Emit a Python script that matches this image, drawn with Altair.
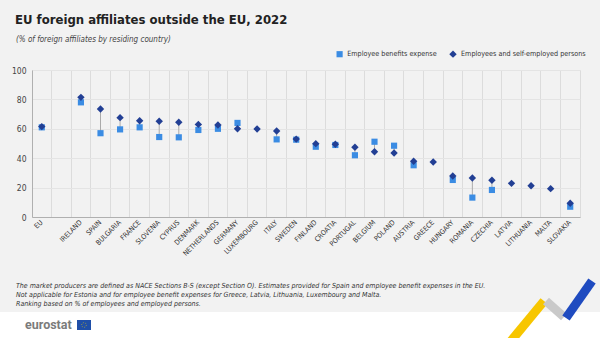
import altair as alt
import pandas as pd

countries = ["EU", " ", "IRELAND", "SPAIN", "BULGARIA", "FRANCE", "SLOVENIA", "CYPRUS",
             "DENMARK", "NETHERLANDS", "GERMANY", "LUXEMBOURG", "ITALY", "SWEDEN",
             "FINLAND", "CROATIA", "PORTUGAL", "BELGIUM", "POLAND", "AUSTRIA", "GREECE",
             "HUNGARY", "ROMANIA", "CZECHIA", "LATVIA", "LITHUANIA", "MALTA", "SLOVAKIA"]
employees = [61.5, None, 81.4, 73.5, 67.6, 65.5, 65.1, 64.4, 63.0, 62.6, 60.0, 59.9, 58.5,
             53.0, 49.9, 49.5, 47.4, 44.4, 43.5, 37.9, 37.4, 27.9, 26.5, 25.0, 22.9, 21.3,
             19.3, 9.3]
benefits = [61.0, None, 78.0, 57.0, 59.6, 61.0, 54.4, 54.2, 59.2, 60.0, 64.0, None, 52.8,
            52.6, 47.8, 49.0, 42.0, 51.2, 48.5, 35.2, None, 25.2, 13.2, 18.4, None, None,
            None, 7.0]

s_ben = "Employee benefits expense"
s_emp = "Employees and self-employed persons"

FONT = "'DejaVu Sans Condensed', 'Liberation Sans Narrow', 'Arial Narrow', sans-serif"

rows = []
rule_rows = []
for c, e, b in zip(countries, employees, benefits):
    if b is not None:
        rows.append({"country": c, "series": s_ben, "value": b})
    if e is not None:
        rows.append({"country": c, "series": s_emp, "value": e})
    if e is not None and b is not None:
        rule_rows.append({"country": c, "lo": min(e, b), "hi": max(e, b)})
df = pd.DataFrame(rows)
df_rule = pd.DataFrame(rule_rows)

xscale = alt.Scale(domain=countries, paddingInner=0, paddingOuter=0)
yscale = alt.Scale(domain=[0, 100])

xaxis = alt.Axis(title=None, labelAngle=315, labelAlign="right", labelBaseline="middle",
                 grid=True, gridColor="#dcdcdc", bandPosition=0, ticks=False,
                 domainColor="#b0b0b0", labelFontSize=7, labelColor="#333333",
                 labelFont=FONT, labelPadding=4)
yaxis = alt.Axis(title=None, values=[0, 20, 40, 60, 80, 100], grid=True, gridColor="#e4e4e4",
                 ticks=False, domainColor="#b0b0b0", labelFontSize=8.5, labelColor="#444444",
                 labelFont=FONT, labelPadding=6)

one = pd.DataFrame({"a": [0]})
OX, OY = 32, 70  # plot origin in page pixels


def deco_rule(x1, y1, x2, y2, color, width):
    return alt.Chart(one).mark_rule(color=color, strokeWidth=width, strokeCap="butt").encode(
        x=alt.value(x1 - OX), y=alt.value(y1 - OY), x2=alt.value(x2 - OX), y2=alt.value(y2 - OY))


bottom_strip = alt.Chart(one).mark_rect(color="#ffffff").encode(
    x=alt.value(-OX), x2=alt.value(600 - OX), y=alt.value(312 - OY), y2=alt.value(338 - OY))

ribbon_y = deco_rule(511, 341, 544, 301, "#f7c600", 9)
ribbon_g = deco_rule(546, 301, 564, 317, "#c9c9c9", 9)
ribbon_b = deco_rule(566, 318, 592, 281, "#1f4bc0", 9)

rules = alt.Chart(df_rule).mark_rule(color="#aaaaaa", strokeWidth=1).encode(
    x=alt.X("country:N", scale=xscale, axis=xaxis, sort=countries),
    y=alt.Y("lo:Q", scale=yscale, axis=yaxis),
    y2="hi:Q")

points = alt.Chart(df).mark_point(filled=True, opacity=1).encode(
    x=alt.X("country:N", scale=xscale, axis=xaxis, sort=countries),
    y=alt.Y("value:Q", scale=yscale, axis=yaxis),
    color=alt.Color("series:N", scale=alt.Scale(domain=[s_ben, s_emp], range=["#3b8ce3", "#223f94"]),
                    legend=alt.Legend(title=None, orient="none", legendX=304, legendY=-20,
                                      direction="horizontal", labelFont=FONT, labelFontSize=7.2,
                                      labelColor="#333333", symbolSize=36, columnPadding=12,
                                      symbolStrokeWidth=0, labelLimit=200)),
    shape=alt.Shape("series:N", scale=alt.Scale(domain=[s_ben, s_emp], range=["square", "diamond"])),
    size=alt.Size("series:N", scale=alt.Scale(domain=[s_ben, s_emp], range=[38, 55]), legend=None),
)


def txt(text, x, y, size, weight="normal", style="normal", color="#222222", font=FONT):
    return alt.Chart(one).mark_text(text=text, align="left", baseline="middle", fontSize=size,
                                    fontWeight=weight, fontStyle=style, color=color,
                                    font=font).encode(x=alt.value(x - OX), y=alt.value(y - OY))


title = txt("EU foreign affiliates outside the EU, 2022", 15, 20, 13, weight="bold", color="#222222")
subtitle = txt("(% of foreign affiliates by residing country)", 16, 40, 8, style="italic", color="#444444")
f1 = txt("The market producers are defined as NACE Sections B-S (except Section O). Estimates provided for Spain and employee benefit expenses in the EU.",
         16, 286, 7, style="italic", color="#333333")
f2 = txt("Not applicable for Estonia and for employee benefit expenses for Greece, Latvia, Lithuania, Luxembourg and Malta.",
         16, 295, 7, style="italic", color="#333333")
f3 = txt("Ranking based on % of employees and employed persons.",
         16, 304, 7, style="italic", color="#333333")
logo = txt("eurostat", 25, 325, 12.5, weight="bold", color="#7b7b7b", font="Roboto, sans-serif")
flag = alt.Chart(one).mark_rect(color="#1f4fa8").encode(
    x=alt.value(77 - OX), x2=alt.value(91 - OX), y=alt.value(320 - OY), y2=alt.value(330 - OY))
stars = alt.Chart(one).mark_point(shape="circle", filled=False, color="#f7d000", size=22,
                                  strokeWidth=0.8, strokeDash=[1, 1.2]).encode(
    x=alt.value(84 - OX), y=alt.value(325 - OY))

chart = alt.layer(bottom_strip, ribbon_y, ribbon_g, ribbon_b, rules, points, title, subtitle,
                  f1, f2, f3, logo, flag, stars).properties(
    width=548, height=147,
    autosize=alt.AutoSizeParams(type="none"),
    padding={"left": OX, "top": OY, "right": 20, "bottom": 121},
    background="#f2f2f2",
).configure_view(stroke="#dcdcdc")

chart.save("out.html", embed_options={"renderer": "svg", "actions": False})
